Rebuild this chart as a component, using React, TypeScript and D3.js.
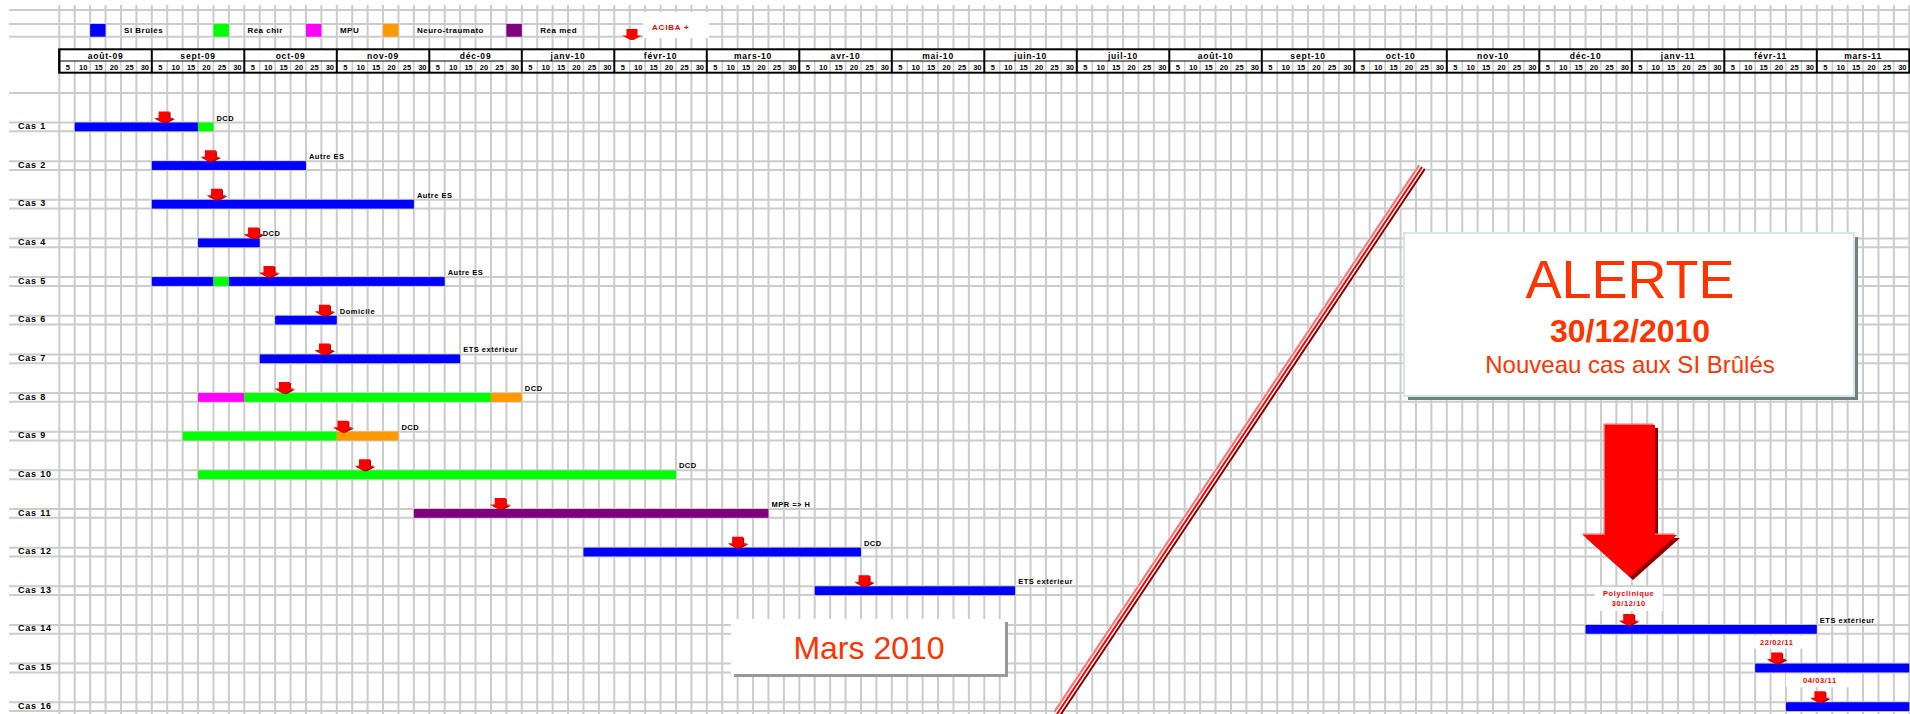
import React from 'react'
import * as d3 from 'd3'

// months shown in the header (one column of 6 x 5 days each)
const MONTHS = ['août-09', 'sept-09', 'oct-09', 'nov-09', 'déc-09', 'janv-10', 'févr-10', 'mars-10',
  'avr-10', 'mai-10', 'juin-10', 'juil-10', 'août-10', 'sept-10', 'oct-10', 'nov-10', 'déc-10',
  'janv-11', 'févr-11', 'mars-11']
const DAY_TICKS = ['5', '10', '15', '20', '25', '30']
const CASES = ['Cas 1', 'Cas 2', 'Cas 3', 'Cas 4', 'Cas 5', 'Cas 6', 'Cas 7', 'Cas 8',
  'Cas 9', 'Cas 10', 'Cas 11', 'Cas 12', 'Cas 13', 'Cas 14', 'Cas 15', 'Cas 16']

const SERVICES = [
  {key: 'si', label: 'SI Brûlés', color: '#0000ff'},
  {key: 'reachir', label: 'Réa chir', color: '#00ff00'},
  {key: 'mpu', label: 'MPU', color: '#ff00ff'},
  {key: 'neuro', label: 'Neuro-traumato', color: '#ff9900'},
  {key: 'reamed', label: 'Réa med', color: '#800080'},
]

// [case, service, start, end]
const STAYS = [
  ['Cas 1', 'si', '2009-08-06', '2009-09-16'],
  ['Cas 1', 'reachir', '2009-09-16', '2009-09-21'],
  ['Cas 2', 'si', '2009-09-01', '2009-10-21'],
  ['Cas 3', 'si', '2009-09-01', '2009-11-26'],
  ['Cas 4', 'si', '2009-09-16', '2009-10-06'],
  ['Cas 5', 'si', '2009-09-01', '2009-09-21'],
  ['Cas 5', 'reachir', '2009-09-21', '2009-09-26'],
  ['Cas 5', 'si', '2009-09-26', '2009-12-06'],
  ['Cas 6', 'si', '2009-10-11', '2009-11-01'],
  ['Cas 7', 'si', '2009-10-06', '2009-12-11'],
  ['Cas 8', 'mpu', '2009-09-16', '2009-10-01'],
  ['Cas 8', 'reachir', '2009-10-01', '2009-12-21'],
  ['Cas 8', 'neuro', '2009-12-21', '2010-01-01'],
  ['Cas 9', 'reachir', '2009-09-11', '2009-11-01'],
  ['Cas 9', 'neuro', '2009-11-01', '2009-11-21'],
  ['Cas 10', 'reachir', '2009-09-16', '2010-02-21'],
  ['Cas 11', 'reamed', '2009-11-26', '2010-03-21'],
  ['Cas 12', 'si', '2010-01-21', '2010-04-21'],
  ['Cas 13', 'si', '2010-04-06', '2010-06-11'],
  ['Cas 14', 'si', '2010-12-16', '2011-03-01'],
  ['Cas 15', 'si', '2011-02-11', '2011-04-01'],
  ['Cas 16', 'si', '2011-02-21', '2011-04-01'],
]

// date of the ACIBA + sample
const ACIBA = [
  ['Cas 1', '2009-09-05'], ['Cas 2', '2009-09-20'], ['Cas 3', '2009-09-22'], ['Cas 4', '2009-10-04'],
  ['Cas 5', '2009-10-09'], ['Cas 6', '2009-10-27'], ['Cas 7', '2009-10-27'], ['Cas 8', '2009-10-14'],
  ['Cas 9', '2009-11-03'], ['Cas 10', '2009-11-10'], ['Cas 11', '2009-12-24'], ['Cas 12', '2010-03-11'],
  ['Cas 13', '2010-04-22'], ['Cas 14', '2010-12-30'], ['Cas 15', '2011-02-18'], ['Cas 16', '2011-03-02'],
]

const OUTCOMES = [
  ['Cas 1', 'DCD'], ['Cas 2', 'Autre ES'], ['Cas 3', 'Autre ES'], ['Cas 4', 'DCD'],
  ['Cas 5', 'Autre ES'], ['Cas 6', 'Domicile'], ['Cas 7', 'ETS extérieur'], ['Cas 8', 'DCD'],
  ['Cas 9', 'DCD'], ['Cas 10', 'DCD'], ['Cas 11', 'MPR => H'], ['Cas 12', 'DCD'],
  ['Cas 13', 'ETS extérieur'], ['Cas 14', 'ETS extérieur'],
]

const NOTES = [
  ['Cas 14', ['Polyclinique', '30/12/10']],
  ['Cas 15', ['22/02/11']],
  ['Cas 16', ['04/03/11']],
]

const W = 1910
const H = 714
const GRID = '#cccccc'
const RED_TXT = '#ff3300'
const SMALL = '"Liberation Sans", Arial, sans-serif'

const parse = d3.timeParse('%Y-%m-%d')
const toMonths = (s: string) => {
  const d = parse(s) as Date
  return (d.getFullYear() - 2009) * 12 + d.getMonth() - 7 + (d.getDate() - 1) / 30
}

function smallArrow(cx: number, bottom: number) {
  return `M${cx - 5.5},${bottom - 11} H${cx + 5.5} V${bottom - 4.5} H${cx + 10} L${cx + 1.5},${bottom} H${cx - 1.5} L${cx - 10},${bottom - 4.5} H${cx - 5.5} Z`
}

export default function App() {
  const x = d3.scaleLinear().domain([0, MONTHS.length]).range([59.3, 59.3 + MONTHS.length * 92.5])
  const y = d3.scalePoint().domain(CASES).range([122.5, 122.5 + 15 * 38.65])
  const barH = 8.8
  const color = d3.scaleOrdinal<string, string>().domain(SERVICES.map(s => s.key)).range(SERVICES.map(s => s.color))
  const colX = (k: number) => x(k / 6)

  const hLines = [10, 24, 36.7, 93]
  CASES.forEach(c => { hLines.push(y(c)!); hLines.push(y(c)! + barH) })

  const ends: Record<string, number> = {}
  STAYS.forEach(s => { ends[s[0]] = Math.max(ends[s[0]] || 0, x(toMonths(s[3]))) })

  // diagonal break line
  const p0 = [1422, 167], p1 = [1057, 714]
  const len = Math.hypot(p1[0] - p0[0], p1[1] - p0[1])
  const nx = (p1[1] - p0[1]) / len, ny = -(p1[0] - p0[0]) / len
  const diag = [[-3.4, '#ff7070'], [0, '#ff0000'], [3.4, '#8b0000']] as [number, string][]

  const bigArrow = (dx: number, dy: number) =>
    `M${1605 + dx},${425 + dy} H${1655 + dx} V${535 + dy} H${1677 + dx} L${1630 + dx},${577 + dy} L${1583 + dx},${535 + dy} H${1605 + dx} Z`

  return (
    <svg width={W} height={H} style={{position: 'absolute', left: 0, top: 0, background: '#fff'}}>
      {/* grid */}
      <g stroke={GRID} strokeWidth={2}>
        {d3.range(0, MONTHS.length * 6 + 1).map(k => (
          <line key={'v' + k} x1={colX(k)} x2={colX(k)} y1={5} y2={H} />
        ))}
        {hLines.map((v, i) => <line key={'h' + i} x1={9} x2={W} y1={v} y2={v} />)}
      </g>

      {/* header */}
      <rect x={x(0)} y={49.3} width={x(MONTHS.length) - x(0)} height={23.4} fill="#fff" />
      <g stroke={GRID} strokeWidth={1.5}>
        {d3.range(0, MONTHS.length * 6).map(k => (
          <line key={'s' + k} x1={colX(k)} x2={colX(k)} y1={61} y2={72.7} />
        ))}
      </g>
      <g stroke="#000" strokeWidth={2} fill="none">
        <rect x={x(0)} y={49.3} width={x(MONTHS.length) - x(0)} height={23.4} />
        <line x1={x(0)} x2={x(MONTHS.length)} y1={61} y2={61} strokeWidth={1.2} />
        {MONTHS.map((m, i) => <line key={m} x1={x(i)} x2={x(i)} y1={49.3} y2={72.7} />)}
      </g>
      <g fontFamily={SMALL} fontWeight="bold" fill="#000">
        {MONTHS.map((m, i) => (
          <text key={m} x={x(i + 0.5)} y={58.5} fontSize={8.5} textAnchor="middle" letterSpacing={0.8}>{m}</text>
        ))}
        {MONTHS.map((m, i) => DAY_TICKS.map((d, j) => (
          <text key={m + d} x={colX(i * 6 + j + 0.55)} y={70} fontSize={7.5} textAnchor="middle">{d}</text>
        )))}
      </g>

      {/* legend */}
      {SERVICES.map((s, i) => {
        const k = [2, 10, 16, 21, 29][i]
        return (
          <g key={s.key}>
            <rect x={colX(k)} y={24} width={colX(k + 1) - colX(k)} height={12.7} fill={s.color} />
            <text x={colX(k + 2.2)} y={33} fontFamily={SMALL} fontWeight="bold" fontSize={8} letterSpacing={0.5}>{s.label}</text>
          </g>
        )
      })}
      <rect x={643} y={12} width={66} height={26} fill="#fff" />
      <path d={smallArrow(632, 40)} fill="#ff0000" />
      <text x={652} y={30} fontFamily={SMALL} fontWeight="bold" fontSize={8} fill="#ff0000" letterSpacing={0.8}>ACIBA +</text>

      {/* diagonal break */}
      <line x1={p0[0]} y1={p0[1]} x2={p1[0]} y2={p1[1]} stroke="#fff" strokeWidth={10} />
      {diag.map(([o, c]) => (
        <line key={c} x1={p0[0] + nx * o} y1={p0[1] + ny * o} x2={p1[0] + nx * o} y2={p1[1] + ny * o} stroke={c} strokeWidth={2} />
      ))}

      {/* case labels */}
      {CASES.map(c => (
        <text key={c} x={18} y={y(c)! + 6.5} fontFamily={SMALL} fontWeight="bold" fontSize={9} letterSpacing={0.8}>{c}</text>
      ))}

      {/* stays */}
      {STAYS.map((s, i) => (
        <rect key={i} x={x(toMonths(s[2]))} y={y(s[0])!} width={x(toMonths(s[3])) - x(toMonths(s[2]))} height={barH} fill={color(s[1])} />
      ))}

      {/* outcomes */}
      {OUTCOMES.map(([c, t]) => (
        <text key={c} x={ends[c] + 3} y={y(c)! - 2} fontFamily={SMALL} fontWeight="bold" fontSize={7.5} letterSpacing={0.5}>{t}</text>
      ))}

      {/* ACIBA + notes */}
      {NOTES.map(([c, lines]) => {
        const cx = x(toMonths(ACIBA.find(a => a[0] === c)![1]))
        const top = y(c as string)! - 16 - (lines as string[]).length * 10
        return (
          <g key={c as string}>
            <rect x={cx - 34} y={top - 2} width={68} height={(lines as string[]).length * 11 + 2} fill="#fff" />
            {(lines as string[]).map((l, j) => (
              <text key={l} x={cx} y={top + 7 + j * 10.5} textAnchor="middle" fontFamily={SMALL} fontWeight="bold" fontSize={7.5} fill="#ff0000" letterSpacing={0.6}>{l}</text>
            ))}
          </g>
        )
      })}
      {ACIBA.map(([c, d]) => (
        <g key={c}>
          <path d={smallArrow(x(toMonths(d)) + 1, y(c)! + 1)} fill="#a00000" />
          <path d={smallArrow(x(toMonths(d)), y(c)!)} fill="#ff0000" />
        </g>
      ))}

      {/* Mars 2010 box */}
      <rect x={734} y={622} width={274} height={55} fill="#999" />
      <rect x={731} y={619} width={274} height={55} fill="#fff" />
      <text x={869} y={659} textAnchor="middle" fontFamily={SMALL} fontSize={32} fill={RED_TXT}>Mars 2010</text>

      {/* ALERTE box */}
      <rect x={1408} y={237} width={450} height={163} fill="#6f8282" />
      <rect x={1404} y={233} width={450} height={163} fill="#fff" stroke="#d4e6ea" strokeWidth={2} />
      <text x={1630} y={298} textAnchor="middle" fontFamily={SMALL} fontSize={54} fill={RED_TXT}>ALERTE</text>
      <text x={1630} y={342} textAnchor="middle" fontFamily={SMALL} fontSize={32} fontWeight="bold" fill={RED_TXT}>30/12/2010</text>
      <text x={1630} y={373} textAnchor="middle" fontFamily={SMALL} fontSize={24} fill={RED_TXT}>Nouveau cas aux SI Brûlés</text>

      {/* big arrow */}
      <path d={bigArrow(3, 3)} fill="#900000" />
      <path d={bigArrow(-1.5, -1.5)} fill="#ff6a6a" />
      <path d={bigArrow(0, 0)} fill="#ff0000" />
    </svg>
  )
}
